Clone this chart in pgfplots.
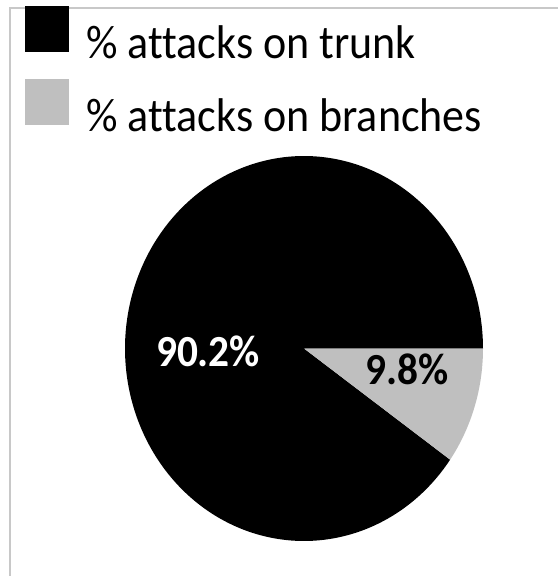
\documentclass[border=0pt]{standalone}
\usepackage{pgfplots}
\pgfplotsset{compat=1.18}
\usepackage{graphicx}
\usepackage{fontspec}
\setmainfont{Carlito}[Ligatures={NoCommon}]
\definecolor{slicegray}{RGB}{191,191,191}
\definecolor{framegray}{RGB}{200,200,200}
\newcommand{\tall}[1]{\scalebox{1}[1.075]{#1}}
% values (percent)
\def\trunk{90.2}
\def\branches{9.8}
\begin{document}
\begin{tikzpicture}
\useasboundingbox (0pt,0pt) rectangle (418.5pt,432pt);
\draw[framegray, line width=1.5pt] (7.5pt,-5pt) rectangle (430pt,426pt);
\begin{axis}[
  at={(93.75pt,26.25pt)}, anchor=south west,
  width=268.5pt, height=288.75pt, scale only axis,
  xmin=-1, xmax=1, ymin=-1, ymax=1,
  hide axis, clip=false,
  legend style={at={(axis description cs:-0.2793,1.3896)}, anchor=north west,
    draw=none, fill=none, inner sep=0pt, outer sep=0pt,
    row sep=14pt, column sep=13pt,
    font=\fontsize{33}{40}\selectfont,
    nodes={inner sep=0pt}},
  legend cell align=left,
  legend image code/.code={\fill[#1] (0pt,-6.75pt) rectangle (33pt,27.75pt);},
]
\addplot[fill=black, draw=none, domain=0:{3.6*\trunk}, samples=300, variable=\t]
  ({cos(\t)}, {sin(\t)}) -- (axis cs:0,0) -- cycle;
\addlegendentry{\tall{\% attacks on trunk}}
\addplot[fill=slicegray, draw=none, domain={3.6*\trunk}:360, samples=60, variable=\t]
  ({cos(\t)}, {sin(\t)}) -- (axis cs:0,0) -- cycle;
\addlegendentry{\tall{\% attacks on branches}}
\node[text=white, font=\bfseries\fontsize{31}{36}\selectfont] at (axis cs:-0.536,-0.013) {\tall{90.2\%}};
\node[text=black, font=\bfseries\fontsize{31}{36}\selectfont] at (axis cs:0.575,-0.106) {\tall{9.8\%}};
\end{axis}
\end{tikzpicture}
\end{document}
